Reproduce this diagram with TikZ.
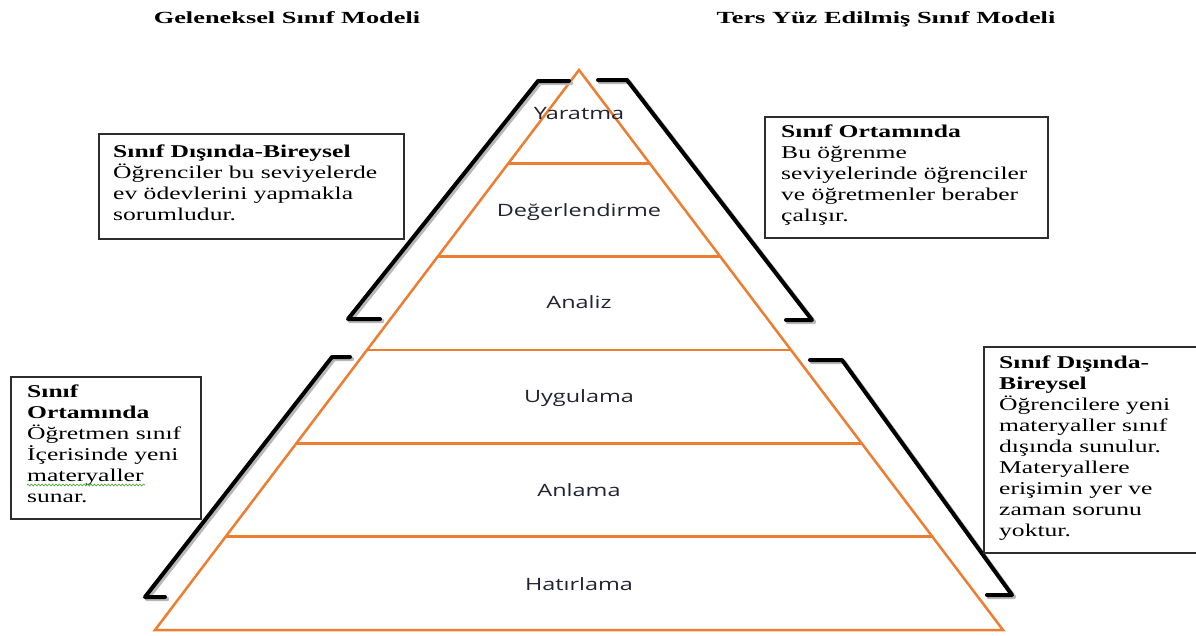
\documentclass[tikz,border=0pt]{standalone}
\usepackage{fontspec}
\setmainfont{Liberation Serif}[FakeStretch=1.42]
\newfontfamily\pyrfont{Open Sans}[FakeStretch=1.38]
\newfontfamily\ttlfont{Liberation Serif}[FakeStretch=1.55]
\usetikzlibrary{decorations.pathmorphing}
\definecolor{pyrorange}{RGB}{237,125,49}
\definecolor{boxgray}{RGB}{45,45,45}
\definecolor{labelgray}{RGB}{34,34,50}
\definecolor{spellgreen}{RGB}{80,170,60}
\begin{document}
\begin{tikzpicture}[x=1pt,y=-1pt,
  level/.style={draw=pyrorange, line width=2.5pt},
  lbl/.style={font=\pyrfont\fontsize{17}{20}\selectfont, text=labelgray, inner sep=0pt, anchor=base},
  ttl/.style={font=\ttlfont\bfseries\fontsize{17}{20}\selectfont, inner sep=0pt, anchor=base},
  infobox/.style={draw=boxgray, line width=1.7pt, fill=white, anchor=north west, inner sep=0pt},
  infotext/.style={anchor=north west, align=left, inner sep=0pt, font=\fontsize{18}{21}\selectfont},
  brk/.style={line width=4pt, line join=round, line cap=round, black},
  brkshadow/.style={line width=4.4pt, line join=round, line cap=round, black!28, shift={(2,2)}},
]
\useasboundingbox (0,0) rectangle (1196,635);
\fill[white] (0,0) rectangle (1196,635);

% titles
\node[ttl] (ttlA) at (287,23) {Geleneksel Sınıf Modeli};
\node[ttl] (ttlB) at (886,23) {Ters Yüz Edilmiş Sınıf Modeli};

% pyramid
\coordinate (apex) at (579,70);
\coordinate (bl) at (155,630);
\coordinate (br) at (1003,630);
\draw[level] (apex) -- (bl) -- (br) -- cycle;
\draw[level] (508.3,163.3) -- (649.7,163.3);
\draw[level] (437.7,256.7) -- (720.3,256.7);
\draw[level] (367,350) -- (791,350);
\draw[level] (296.3,443.3) -- (861.7,443.3);
\draw[level] (225.7,536.7) -- (932.3,536.7);

\node[lbl] (yaratma) at (579,119) {Yaratma};
\node[lbl] (degerlendirme) at (579,216) {Değerlendirme};
\node[lbl] (analiz) at (579,308) {Analiz};
\node[lbl] (uygulama) at (579,402) {Uygulama};
\node[lbl] (anlama) at (579,496) {Anlama};
\node[lbl] (hatirlama) at (579,590) {Hatırlama};

% brackets (shadow then line)
\draw[brkshadow] (569,81) -- (538,81) -- (348,319) -- (380,319);
\draw[brkshadow] (598,80) -- (627,80) -- (812,320) -- (786,320);
\draw[brkshadow] (350,357) -- (332,357) -- (145,597) -- (165,597);
\draw[brkshadow] (810,360) -- (842,360) -- (1012,595) -- (987,595);
\draw[brk] (569,81) -- (538,81) -- (348,319) -- (380,319);
\draw[brk] (598,80) -- (627,80) -- (812,320) -- (786,320);
\draw[brk] (350,357) -- (332,357) -- (145,597) -- (165,597);
\draw[brk] (810,360) -- (842,360) -- (1012,595) -- (987,595);

% boxes
\node[infobox, minimum width=305pt, minimum height=105pt] (tlbox) at (98,133) {};
\node[infotext] (tltext) at (113,142.3) {\strut\textbf{Sınıf Dışında-Bireysel}\\Öğrenciler bu seviyelerde\\ev ödevlerini yapmakla\\sorumludur.};

\node[infobox, minimum width=283pt, minimum height=121pt] (trbox) at (764,116) {};
\node[infotext] (trtext) at (781,122.3) {\strut\textbf{Sınıf Ortamında}\\Bu öğrenme\\seviyelerinde öğrenciler\\ve öğretmenler beraber\\çalışır.};

\node[infobox, minimum width=190pt, minimum height=142pt] (blbox) at (10,376) {};
\node[infotext] (bltext) at (27,382.3) {\strut\textbf{Sınıf}\\\textbf{Ortamında}\\Öğretmen sınıf\\İçerisinde yeni\\materyaller\\sunar.};
\draw[spellgreen, line width=0.7pt, decorate, decoration={snake, amplitude=0.9pt, segment length=3.5pt}] (27,485) -- (145,485);

\node[infobox, minimum width=214pt, minimum height=206pt] (brbox) at (983,346) {};
\node[infotext] (brtext) at (999,353.6) {\strut\textbf{Sınıf Dışında-}\\\textbf{Bireysel}\\Öğrencilere yeni\\materyaller sınıf\\dışında sunulur.\\Materyallere\\erişimin yer ve\\zaman sorunu\\yoktur.};
\end{tikzpicture}
\end{document}
